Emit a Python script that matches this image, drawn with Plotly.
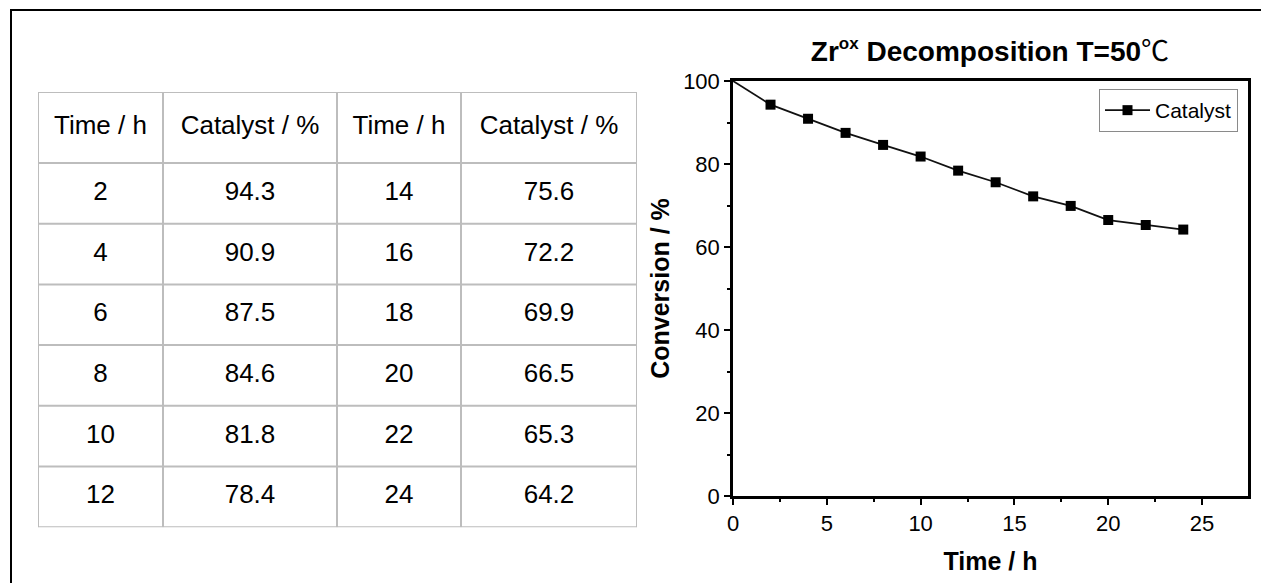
import plotly.graph_objects as go

# Catalyst conversion over time
time_h = [0, 2, 4, 6, 8, 10, 12, 14, 16, 18, 20, 22, 24]
conversion = [100, 94.3, 90.9, 87.5, 84.6, 81.8, 78.4, 75.6, 72.2, 69.9, 66.5, 65.3, 64.2]
header_labels = ["Time / h", "Catalyst / %", "Time / h", "Catalyst / %"]
x_ticks = [0, 5, 10, 15, 20, 25]
y_ticks = [0, 20, 40, 60, 80, 100]

W, H = 1261, 583


def px_x(v):
    return v / W


def px_y(v):
    return 1 - v / H


fig = go.Figure()

# ---------------- table (drawn on its own hidden axes, in pixel units) -------------
col_w = [125, 174, 124, 176]
header_h, row_h = 71, 60.7
n_rows = 6
col_edges = [0]
for w in col_w:
    col_edges.append(col_edges[-1] + w)
row_edges = [0, header_h] + [header_h + row_h * (i + 1) for i in range(n_rows)]
tbl_w, tbl_h = col_edges[-1], row_edges[-1]
col_mid = [(col_edges[i] + col_edges[i + 1]) / 2 for i in range(4)]
row_mid = [(row_edges[i] + row_edges[i + 1]) / 2 for i in range(n_rows + 1)]

columns = [
    [str(t) for t in time_h[1:7]],
    [f"{c:.1f}" for c in conversion[1:7]],
    [str(t) for t in time_h[7:]],
    [f"{c:.1f}" for c in conversion[7:]],
]
table_font = dict(family="Arial", size=26, color="black")
for ci in range(4):
    fig.add_trace(go.Scatter(
        x=[col_mid[ci]] * (n_rows + 1), y=row_mid,
        text=[header_labels[ci]] + columns[ci],
        mode="text", textposition="middle center", textfont=table_font,
        showlegend=False, hoverinfo="skip", xaxis="x2", yaxis="y2",
    ))

grid_line = dict(color="#bdbdbd", width=2)
shapes = []
for xe in col_edges:
    shapes.append(dict(type="line", xref="x2", yref="y2", x0=xe, x1=xe, y0=0, y1=tbl_h, line=grid_line))
for ye in row_edges:
    shapes.append(dict(type="line", xref="x2", yref="y2", x0=0, x1=tbl_w, y0=ye, y1=ye, line=grid_line))

# ---------------- conversion curve -------------
# first segment starts at t=0 without a marker
fig.add_trace(go.Scatter(
    x=time_h[:2], y=conversion[:2], mode="lines",
    line=dict(color="#111111", width=1.8), showlegend=False, hoverinfo="skip",
    xaxis="x", yaxis="y",
))
fig.add_trace(go.Scatter(
    x=time_h[1:], y=conversion[1:], mode="lines+markers", name="Catalyst",
    line=dict(color="#111111", width=1.8),
    marker=dict(symbol="square", size=10, color="black"),
    xaxis="x", yaxis="y",
))

axis_common = dict(
    showgrid=False, zeroline=False, showline=True, linecolor="black",
    linewidth=2.5, mirror=True, ticks="outside", ticklen=6, tickwidth=2,
    tickcolor="black", tickfont=dict(family="Arial", size=22, color="black"),
    automargin=False,
)

# page frame on the left and top
shapes += [
    dict(type="line", xref="paper", yref="paper", x0=px_x(11), x1=px_x(11),
         y0=0, y1=px_y(10), line=dict(color="black", width=2)),
    dict(type="line", xref="paper", yref="paper", x0=px_x(10), x1=1,
         y0=px_y(10), y1=px_y(10), line=dict(color="black", width=2)),
]

fig.update_layout(
    width=W, height=H, autosize=False,
    margin=dict(l=0, r=0, t=0, b=0, pad=0),
    paper_bgcolor="white", plot_bgcolor="white",
    showlegend=True,
    title=dict(
        text="<b>Zr<sup><span style='font-size:17px'>ox</span></sup> Decomposition T=50</b>"
             "<span style='font-family:Noto Sans CJK SC'>℃</span>",
        x=990 / W, xanchor="center", y=px_y(51), yanchor="middle",
        font=dict(family="Arial", size=28, color="black"),
    ),
    xaxis=dict(
        domain=[px_x(733), px_x(1248)], range=[0, 27.45],
        tickvals=x_ticks,
        minor=dict(dtick=2.5, tick0=0, ticks="outside", ticklen=3, tickwidth=2, tickcolor="black"),
        title=dict(text="<b>Time / h</b>", standoff=18,
                   font=dict(family="Arial", size=25, color="black")),
        **axis_common,
    ),
    yaxis=dict(
        domain=[px_y(496), px_y(81)], range=[0, 100],
        tickvals=y_ticks,
        minor=dict(dtick=10, tick0=0, ticks="outside", ticklen=3, tickwidth=2, tickcolor="black"),
        title=dict(text="<b>Conversion / %</b>", standoff=7,
                   font=dict(family="Arial", size=25, color="black")),
        **axis_common,
    ),
    xaxis2=dict(domain=[px_x(38), px_x(38 + tbl_w)], range=[0, tbl_w], visible=False,
                fixedrange=True),
    yaxis2=dict(domain=[px_y(92 + tbl_h), px_y(92)], range=[tbl_h, 0], visible=False,
                fixedrange=True),
    legend=dict(
        x=px_x(1238), xanchor="right", y=px_y(89), yanchor="top",
        bgcolor="white", bordercolor="#8a8a8a", borderwidth=1,
        font=dict(family="Arial", size=21, color="black"),
        itemwidth=45, tracegroupgap=0,
    ),
    shapes=shapes,
)

fig.write_html("out.html")
